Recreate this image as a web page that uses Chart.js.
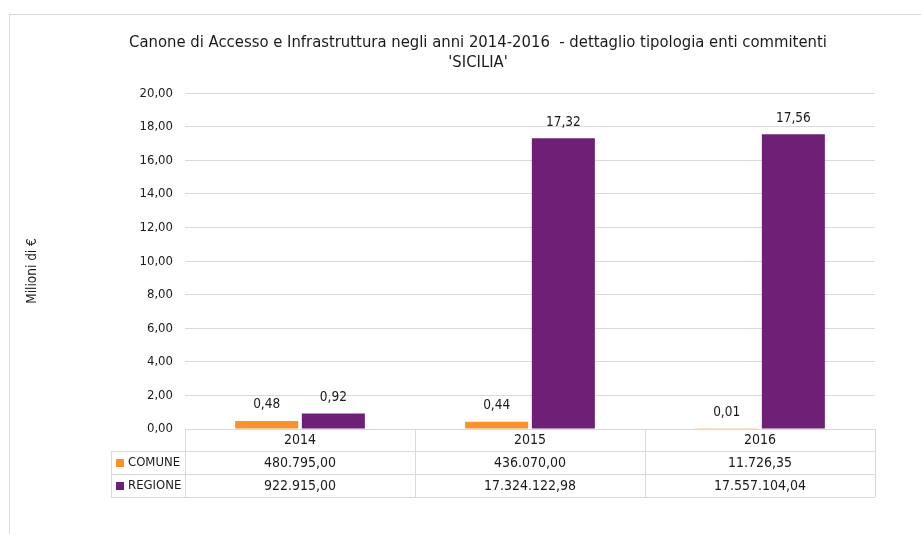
<!DOCTYPE html>
<html>
<head>
<meta charset="utf-8">
<script src="https://cdn.jsdelivr.net/npm/chart.js@4"></script>
<style>
    html, body { margin: 0; padding: 0; background: #fff; overflow: hidden; }
    #box { position: absolute; left: 9px; top: 14px; width: 938px; height: 540px; border: 1px solid #d9d9d9; box-sizing: border-box; }
    #chart { position: absolute; left: 0; top: 0; }
</style>
</head>
<body>
<div id="box"><canvas id="chart" width="936" height="519"></canvas></div>
<script>
const FONT = "'Liberation Sans Narrow', 'DejaVu Sans Condensed', sans-serif";

const years = ['2014', '2015', '2016'];
const comuneEuro = [480795.00, 436070.00, 11726.35];
const regioneEuro = [922915.00, 17324122.98, 17557104.04];
const yTicks = [0, 2, 4, 6, 8, 10, 12, 14, 16, 18, 20];

const seriesNames = ['COMUNE', 'REGIONE'];
const seriesColors = ['#f7922f', '#6e2076'];

function fmtIt(v, dec) {
    const parts = v.toFixed(dec).split('.');
    const int = parts[0].replace(/\B(?=(\d{3})+(?!\d))/g, '.');
    return parts.length > 1 ? int + ',' + parts[1] : int;
}

// data labels above each bar
const barLabels = {
    id: 'barLabels',
    afterDatasetsDraw(chart) {
        const ctx = chart.ctx;
        ctx.save();
        ctx.font = '13.5px ' + FONT;
        ctx.fillStyle = '#1a1a1a';
        ctx.textAlign = 'center';
        ctx.textBaseline = 'middle';
        chart.data.datasets.forEach((ds, di) => {
            chart.getDatasetMeta(di).data.forEach((bar, i) => {
                ctx.fillText(fmtIt(ds.data[i], 2), bar.x, bar.y - 16);
            });
        });
        ctx.restore();
    }
};

// y axis title, placed like the original (left edge, a bit below centre)
const yTitle = {
    id: 'yTitle',
    afterDraw(chart) {
        const ctx = chart.ctx;
        ctx.save();
        ctx.translate(22, 256);
        ctx.rotate(-Math.PI / 2);
        ctx.font = '13.5px ' + FONT;
        ctx.fillStyle = '#1a1a1a';
        ctx.textAlign = 'center';
        ctx.textBaseline = 'middle';
        ctx.fillText('Milioni di €', 0, 0);
        ctx.restore();
    }
};

// data table under the plot
const dataTable = {
    id: 'dataTable',
    afterDraw(chart) {
        const ctx = chart.ctx;
        const area = chart.chartArea;
        const xs = chart.scales.x;
        const colW = (area.right - area.left) / years.length;
        const rowH = 23;
        const top = area.bottom;
        const legendLeft = area.left - 74;
        const rows = [comuneEuro, regioneEuro];

        ctx.save();
        ctx.strokeStyle = '#d9d9d9';
        ctx.lineWidth = 1;
        ctx.beginPath();
        ctx.moveTo(area.left, top + 0.5); ctx.lineTo(area.right, top + 0.5);
        for (let r = 1; r <= 3; r++) {
            const y = Math.round(top + r * rowH - 1) + 0.5;
            ctx.moveTo(legendLeft, y); ctx.lineTo(area.right, y);
        }
        for (let c = 0; c <= years.length; c++) {
            const x = Math.round(area.left + c * colW) + 0.5;
            ctx.moveTo(x, top); ctx.lineTo(x, top + 3 * rowH - 1);
        }
        ctx.moveTo(legendLeft + 0.5, top + rowH - 1); ctx.lineTo(legendLeft + 0.5, top + 3 * rowH - 1);
        ctx.stroke();

        ctx.font = '14px ' + FONT;
        ctx.fillStyle = '#1a1a1a';
        ctx.textBaseline = 'middle';
        ctx.textAlign = 'center';
        years.forEach((y, i) => {
            ctx.fillText(y, xs.getPixelForValue(i), top + rowH / 2);
        });
        rows.forEach((vals, r) => {
            const cy = top + (r + 1) * rowH + rowH / 2 - 0.5;
            ctx.font = '14px ' + FONT;
            ctx.textAlign = 'center';
            vals.forEach((v, i) => {
                ctx.fillText(fmtIt(v, 2), xs.getPixelForValue(i), cy);
            });
            ctx.fillStyle = seriesColors[r];
            ctx.fillRect(legendLeft + 5, cy - 4, 8, 8);
            ctx.fillStyle = '#1a1a1a';
            ctx.font = '13px ' + FONT;
            ctx.textAlign = 'left';
            ctx.fillText(seriesNames[r], legendLeft + 17, cy);
        });
        ctx.restore();
    }
};

new Chart(document.getElementById('chart').getContext('2d'), {
    type: 'bar',
    data: {
        labels: years,
        datasets: [
            {
                label: 'COMUNE',
                data: comuneEuro.map(v => v / 1e6),
                backgroundColor: seriesColors[0],
                categoryPercentage: 0.58,
                barPercentage: 0.945
            },
            {
                label: 'REGIONE',
                data: regioneEuro.map(v => v / 1e6),
                backgroundColor: seriesColors[1],
                categoryPercentage: 0.58,
                barPercentage: 0.945
            }
        ]
    },
    options: {
        responsive: false,
        animation: false,
        layout: {
            padding: { left: 71, right: 71, top: 0, bottom: 105 }
        },
        plugins: {
            legend: { display: false },
            tooltip: { enabled: false },
            title: {
                display: true,
                text: ["Canone di Accesso e Infrastruttura negli anni 2014-2016  - dettaglio tipologia enti commitenti", "'SICILIA'"],
                color: '#1a1a1a',
                font: { family: FONT, size: 16.5, weight: 'normal', lineHeight: 1.25 },
                padding: { top: 17, bottom: 20 }
            }
        },
        scales: {
            x: {
                display: false
            },
            y: {
                min: 0,
                max: 20,
                afterBuildTicks(scale) {
                    scale.ticks = yTicks.map(v => ({ value: v }));
                },
                afterFit(scale) {
                    scale.width = 104;
                },
                border: { display: false },
                grid: { color: '#d9d9d9', drawTicks: false },
                ticks: {
                    padding: 12,
                    color: '#1a1a1a',
                    font: { family: FONT, size: 13 },
                    callback: v => fmtIt(v, 2)
                }
            }
        }
    },
    plugins: [barLabels, yTitle, dataTable]
});
</script>
</body>
</html>
